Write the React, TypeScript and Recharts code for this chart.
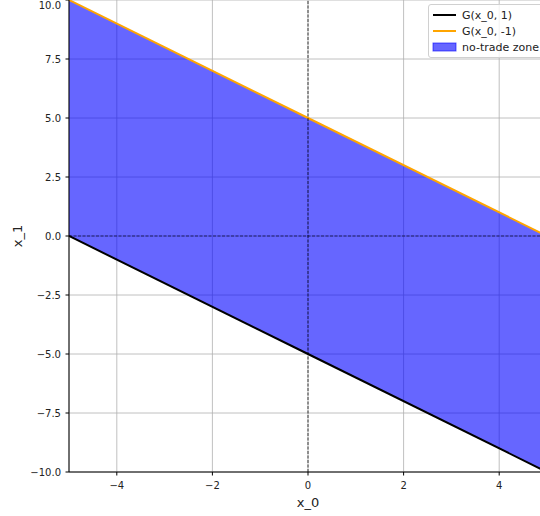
import React from 'react';
import {
  ComposedChart, Line, Area, XAxis, YAxis, CartesianGrid, ReferenceLine, Legend, Label,
} from 'recharts';

const xValues = [-5, 0, 5];
const gPlus = [0, -5, -10];   // G(x_0, 1)
const gMinus = [10, 5, 0];    // G(x_0, -1)
const xTicks = [-4, -2, 0, 2, 4];
const yTicks = [-10, -7.5, -5, -2.5, 0, 2.5, 5, 7.5, 10];
const legendItems = [
  { label: 'G(x_0, 1)', kind: 'line', color: '#000000' },
  { label: 'G(x_0, -1)', kind: 'line', color: '#ffa500' },
  { label: 'no-trade zone', kind: 'rect', color: '#0000ff' },
];

const data = xValues.map((x, i) => ({
  x,
  g1: gPlus[i],
  g2: gMinus[i],
  zone: [gPlus[i], gMinus[i]],
}));

const font = 'DejaVu Sans, sans-serif';
const minus = (s: string) => s.replace('-', '\u2212');

const LegendBox = () => (
  <div
    style={{
      border: '1px solid #d0d0d0',
      borderRadius: 3,
      background: 'rgba(255,255,255,0.8)',
      padding: '2px 6px 2px 3px',
      fontFamily: font,
      fontSize: 11,
      color: '#222',
      width: 124,
      boxSizing: 'border-box',
    }}
  >
    {legendItems.map((it) => (
      <div key={it.label} style={{ display: 'flex', alignItems: 'center', height: 16 }}>
        <svg width={30} height={16} style={{ flex: 'none' }}>
          {it.kind === 'line' ? (
            <line x1={1} x2={24} y1={8} y2={8} stroke={it.color} strokeWidth={2} />
          ) : (
            <rect x={1} y={4} width={23} height={8} fill={it.color} fillOpacity={0.6} stroke={it.color} strokeOpacity={0.6} />
          )}
        </svg>
        <span style={{ whiteSpace: 'nowrap' }}>{it.label}</span>
      </div>
    ))}
  </div>
);

export default function App() {
  return (
    <div style={{ position: 'absolute', left: 0, top: 0, width: 540, height: 516, overflow: 'hidden', background: '#fff' }}>
      <ComposedChart
        width={560}
        height={516}
        data={data}
        margin={{ top: 0, right: 13, bottom: 0, left: 0 }}
      >
        <CartesianGrid stroke="#b0b0b0" strokeWidth={0.8} />
        <XAxis
          dataKey="x"
          type="number"
          domain={[-5, 5]}
          ticks={xTicks}
          tickFormatter={(v: number) => minus(String(v))}
          tick={{ fill: '#222', fontSize: 10, fontFamily: font }}
          tickSize={3.5}
          tickMargin={6}
          stroke="#000"
          height={44}
          allowDataOverflow
        >
          <Label value="x_0" position="center" dy={8} style={{ fontSize: 13, fontFamily: font, fill: '#222' }} />
        </XAxis>
        <YAxis
          type="number"
          domain={[-10, 10]}
          ticks={yTicks}
          tickFormatter={(v: number) => minus(v.toFixed(1))}
          tick={{ fill: '#222', fontSize: 10, fontFamily: font }}
          tickSize={3.5}
          tickMargin={4.5}
          stroke="#000"
          width={69}
          allowDataOverflow
        >
          <Label value="x_1" position="center" angle={-90} dx={-17} style={{ fontSize: 13, fontFamily: font, fill: '#222' }} />
        </YAxis>
        <Area
          dataKey="zone"
          type="linear"
          fill="#0000ff"
          fillOpacity={0.6}
          stroke="none"
          isAnimationActive={false}
        />
        <Line dataKey="g1" type="linear" stroke="#000000" strokeWidth={2} dot={false} isAnimationActive={false} />
        <Line dataKey="g2" type="linear" stroke="#ffa500" strokeWidth={2} dot={false} isAnimationActive={false} />
        <ReferenceLine x={0} stroke="#000" strokeOpacity={0.6} strokeDasharray="3 1.5" strokeWidth={1.2} />
        <ReferenceLine y={0} stroke="#000" strokeOpacity={0.6} strokeDasharray="3 1.5" strokeWidth={1.2} />
        <Legend
          layout="vertical"
          align="center"
          verticalAlign="middle"
          content={() => <LegendBox />}
          wrapperStyle={{ left: 428, top: 4, width: 124 }}
        />
      </ComposedChart>
    </div>
  );
}
